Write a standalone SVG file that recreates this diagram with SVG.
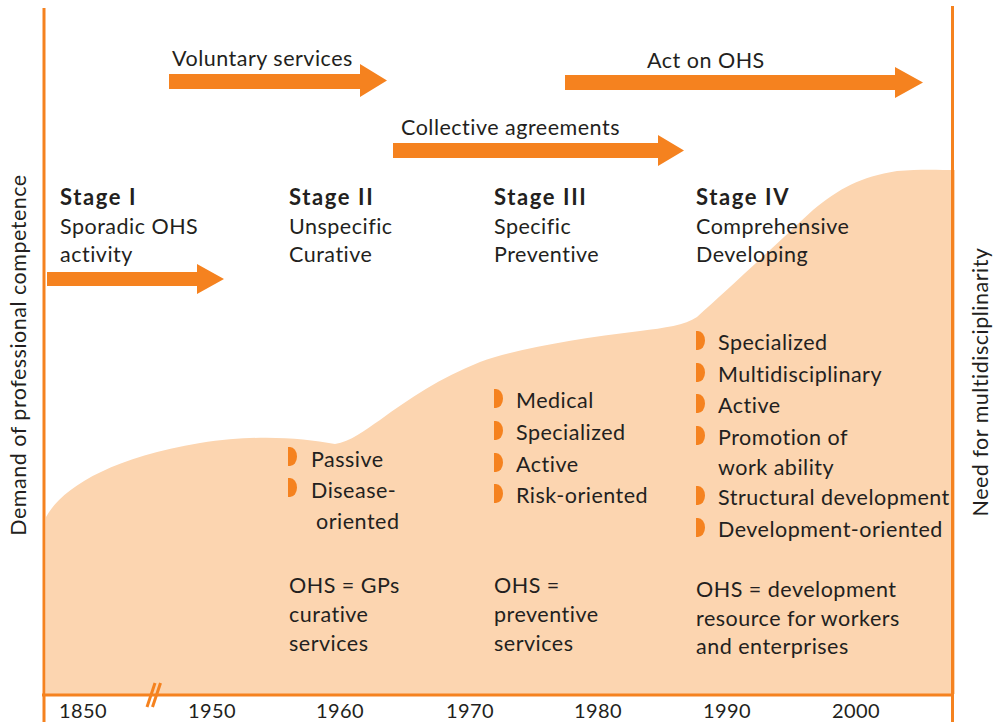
<svg xmlns="http://www.w3.org/2000/svg" width="995" height="722" viewBox="0 0 995 722">
<style>
text{font-family:Lato,"Open Sans","Liberation Sans",sans-serif;font-size:21.5px;letter-spacing:0.5px;fill:#231f20}
.b{font-weight:bold;font-size:22px;letter-spacing:1.6px}
.ax{stroke:#f5821f;stroke-width:3;fill:none}
.arr{fill:#f5821f}
.bul{fill:#f5821f}
.yr{text-anchor:middle;font-size:20px;letter-spacing:0.4px}
</style>
<defs>
<path id="bl" d="M0,-19 h2 a7,9.5 0 0 1 0,19 h-2 z"/>
</defs>
<rect width="995" height="722" fill="#fff"/>
<g id="area">
<path d="M46,694 V517 C62,488 110,458 200,443 C260,434 300,438 335,444 C350,442 365,430 380,420 C410,398 440,378 480,362 C520,348 580,338 640,331 C665,328 685,325 697,317 C725,292 770,250 813,210 C840,188 860,177 897,171 C920,169 940,170 955,170 V694 Z" fill="#fcd5b0"/>
</g>
<g id="axes">
<line class="ax" x1="44" y1="8" x2="44" y2="722"/>
<line class="ax" x1="952.5" y1="6" x2="952.5" y2="722"/>
<line class="ax" x1="42" y1="695" x2="952" y2="695"/>
<line class="ax" stroke-width="2" x1="147" y1="707" x2="155" y2="683"/>
<line class="ax" stroke-width="2" x1="152.5" y1="707" x2="160.5" y2="683"/>
<text x="26" y="355" text-anchor="middle" transform="rotate(-90 26 355)">Demand of professional competence</text>
<text x="988" y="382" text-anchor="middle" transform="rotate(-90 988 382)">Need for multidisciplinarity</text>
</g>
<g id="years">
<text class="yr" x="83" y="718">1850</text>
<text class="yr" x="212" y="718">1950</text>
<text class="yr" x="340" y="718">1960</text>
<text class="yr" x="470" y="718">1970</text>
<text class="yr" x="598" y="718">1980</text>
<text class="yr" x="727" y="718">1990</text>
<text class="yr" x="856" y="718">2000</text>
</g>
<g id="connectors">
<path class="arr" d="M169,74 H360 V64 L387,80.5 L360,97 V89 H169 Z"/>
<path class="arr" d="M565,75 H895 V67 L923,82.5 L895,98 V90 H565 Z"/>
<path class="arr" d="M393,143 H658 V135 L684,150.5 L658,166 V158 H393 Z"/>
<path class="arr" d="M47,272 H197 V264 L224,279 L197,294 V286 H47 Z"/>
</g>
<g id="label-voluntary"><text x="172" y="66">Voluntary services</text></g>
<g id="label-act"><text x="647" y="68">Act on OHS</text></g>
<g id="label-collective"><text x="401" y="135">Collective agreements</text></g>
<g id="stage1">
<text class="b" x="60" y="205">Stage I</text>
<text x="60" y="234">Sporadic OHS</text>
<text x="60" y="262">activity</text>
</g>
<g id="stage2">
<text class="b" x="289" y="205">Stage II</text>
<text x="289" y="234">Unspecific</text>
<text x="289" y="262">Curative</text>
<use href="#bl" class="bul" x="288" y="466"/>
<text x="311" y="467">Passive</text>
<use href="#bl" class="bul" x="288" y="497"/>
<text x="311" y="498">Disease-</text>
<text x="316" y="529">oriented</text>
<text x="289" y="593">OHS = GPs</text>
<text x="289" y="622">curative</text>
<text x="289" y="651">services</text>
</g>
<g id="stage3">
<text class="b" x="494" y="205">Stage III</text>
<text x="494" y="234">Specific</text>
<text x="494" y="262">Preventive</text>
<use href="#bl" class="bul" x="494" y="408"/>
<text x="516" y="408">Medical</text>
<use href="#bl" class="bul" x="494" y="440"/>
<text x="516" y="440">Specialized</text>
<use href="#bl" class="bul" x="494" y="472"/>
<text x="516" y="472">Active</text>
<use href="#bl" class="bul" x="494" y="503"/>
<text x="516" y="503">Risk-oriented</text>
<text x="494" y="593">OHS =</text>
<text x="494" y="622">preventive</text>
<text x="494" y="651">services</text>
</g>
<g id="stage4">
<text class="b" x="696" y="205">Stage IV</text>
<text x="696" y="234">Comprehensive</text>
<text x="696" y="262">Developing</text>
<use href="#bl" class="bul" x="696" y="350"/>
<text x="718" y="350">Specialized</text>
<use href="#bl" class="bul" x="696" y="382"/>
<text x="718" y="382">Multidisciplinary</text>
<use href="#bl" class="bul" x="696" y="413"/>
<text x="718" y="413">Active</text>
<use href="#bl" class="bul" x="696" y="445"/>
<text x="718" y="445">Promotion of</text>
<text x="718" y="475">work ability</text>
<use href="#bl" class="bul" x="696" y="505"/>
<text x="718" y="505">Structural development</text>
<use href="#bl" class="bul" x="696" y="537"/>
<text x="718" y="537">Development-oriented</text>
<text x="696" y="597">OHS = development</text>
<text x="696" y="626">resource for workers</text>
<text x="696" y="654">and enterprises</text>
</g>
</svg>
